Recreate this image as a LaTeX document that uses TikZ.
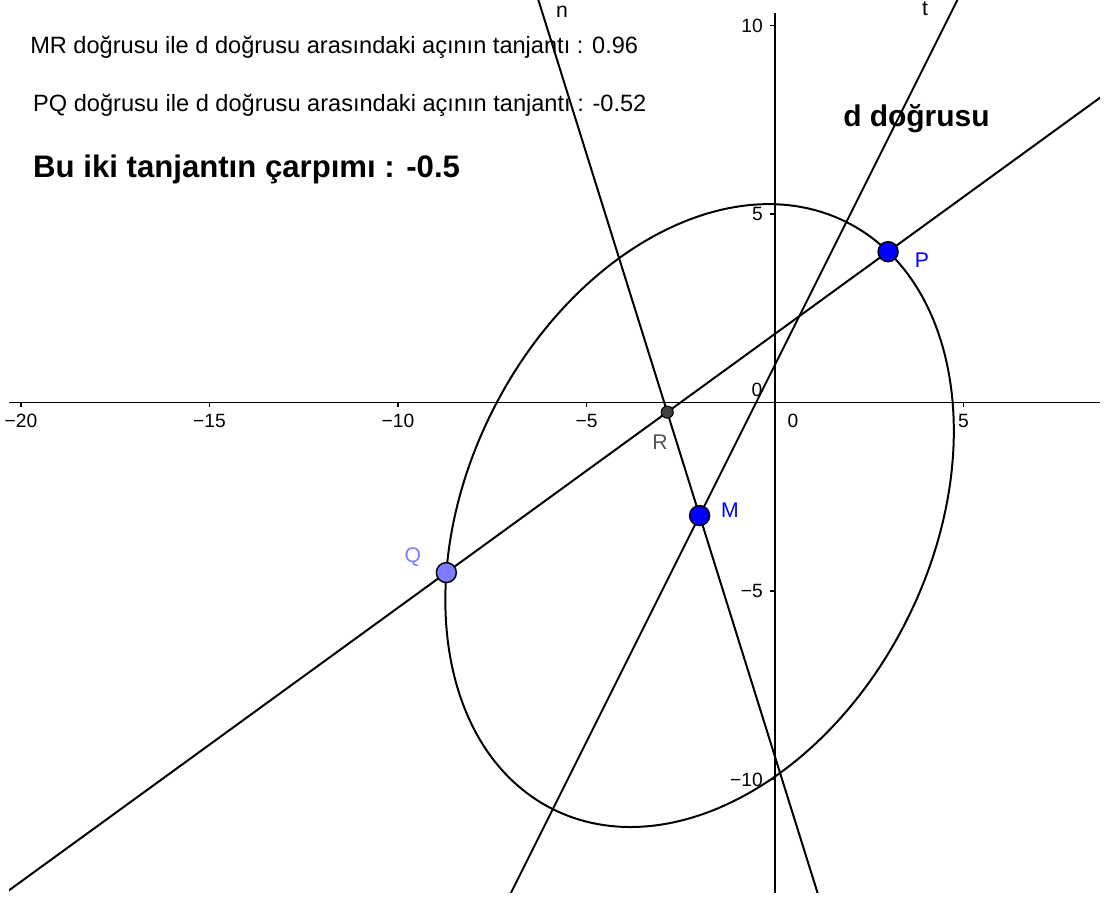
\documentclass[tikz,border=0pt]{standalone}
\usepackage{fontspec}
\setmainfont{Liberation Sans}
\usetikzlibrary{calc}
\definecolor{ggblue}{RGB}{0,0,255}
\definecolor{gglight}{RGB}{125,125,255}
\definecolor{ggdark}{RGB}{64,64,64}
\definecolor{gglabel}{RGB}{85,85,85}
\begin{document}
\begin{tikzpicture}[x=1cm,y=1cm,
  every node/.style={inner sep=0pt},
  curve/.style={line width=1.5pt, black},
  axisline/.style={line width=1.4pt, black},
  ptnode/.style={circle, draw=black, line width=1.1pt, minimum size=0.53cm, inner sep=0pt},
  smallpt/.style={circle, draw=black, line width=0.8pt, minimum size=0.32cm, inner sep=0pt, fill=ggdark},
  ptlabel/.style={font=\fontsize{16}{19}\selectfont},
  ticklabel/.style={font=\fontsize{14.5}{17}\selectfont},
  infotext/.style={anchor=base west, font=\fontsize{17.8}{21}\selectfont},
]
\useasboundingbox (-20.557,-13.170) rectangle (8.727,10.676);

% coordinates
\coordinate (pP) at (3,4);
\coordinate (pM) at (-2,-3);
\coordinate (pQ) at (-8.717,-4.512);
\coordinate (pR) at (-2.858,-0.256);
\coordinate (pD) at (-1,-1);

% axes
\draw[axisline] (-20.318,0) -- (8.62,0);
\draw[axisline] (0,-13.01) -- (0,10.33);
\foreach \x/\t in {-20/−20,-15/−15,-10/−10,-5/−5,5/5}{
  \draw[axisline] (\x,0) -- (\x,-0.13);
  \node[ticklabel] (xl\x) at (\x,-0.49) {\t};
}
\foreach \y/\t in {-10/−10,-5/−5,5/5,10/10}{
  \draw[axisline] (0,\y) -- (-0.13,\y);
  \node[ticklabel, anchor=east] (yl\y) at (-0.318,\y) {\t};
}
\node[ticklabel] (xl0) at (0.477,-0.49) {0};
\node[ticklabel] (yl0) at (-0.477,0.33) {0};

% ellipse and lines
\begin{scope}
  \clip (-20.318,-13.01) rectangle (8.62,10.676);
  \draw[curve, rotate around={63.435:(pM)}] (pM) ellipse (8.706 and 6.156);
  \draw[curve] ($(pP)!-3!(pQ)$) -- ($(pQ)!-3!(pP)$);
  \draw[curve] ($(pM)!-12!(pR)$) -- ($(pM)!12!(pR)$);
  \draw[curve] ($(pM)!-12!(pD)$) -- ($(pM)!12!(pD)$);
\end{scope}

% points
\node[smallpt] (R) at (pR) {};
\node[ptnode, fill=ggblue] (P) at (pP) {};
\node[ptnode, fill=ggblue] (M) at (pM) {};
\node[ptnode, fill=gglight] (Q) at (pQ) {};

% point labels
\node[ptlabel, text=ggblue] (Plab) at (3.899,3.780) {P};
\node[ptlabel, text=ggblue] (Mlab) at (-1.194,-2.851) {M};
\node[ptlabel, text=gglight] (Qlab) at (-9.602,-4.098) {Q};
\node[ptlabel, text=gglabel] (Rlab) at (-3.050,-1.048) {R};
\node[ptlabel] (nlab) at (-5.650,10.358) {n};
\node[ptlabel] (tlab) at (3.979,10.45) {t};

% texts
\node[infotext] (t1) at (-19.761,9.244) {MR doğrusu ile d doğrusu arasındaki açının tanjantı : 0.96};
\node[infotext] (t2) at (-19.682,7.706) {PQ doğrusu ile d doğrusu arasındaki açının tanjantı : -0.52};
\node[anchor=base west, font=\bfseries\fontsize{23.5}{28}\selectfont] (t3) at (-19.682,5.955) {Bu iki tanjantın çarpımı : -0.5};
\node[anchor=base west, font=\bfseries\fontsize{22.6}{27}\selectfont] (t4) at (1.804,7.308) {d doğrusu};
\end{tikzpicture}
\end{document}
